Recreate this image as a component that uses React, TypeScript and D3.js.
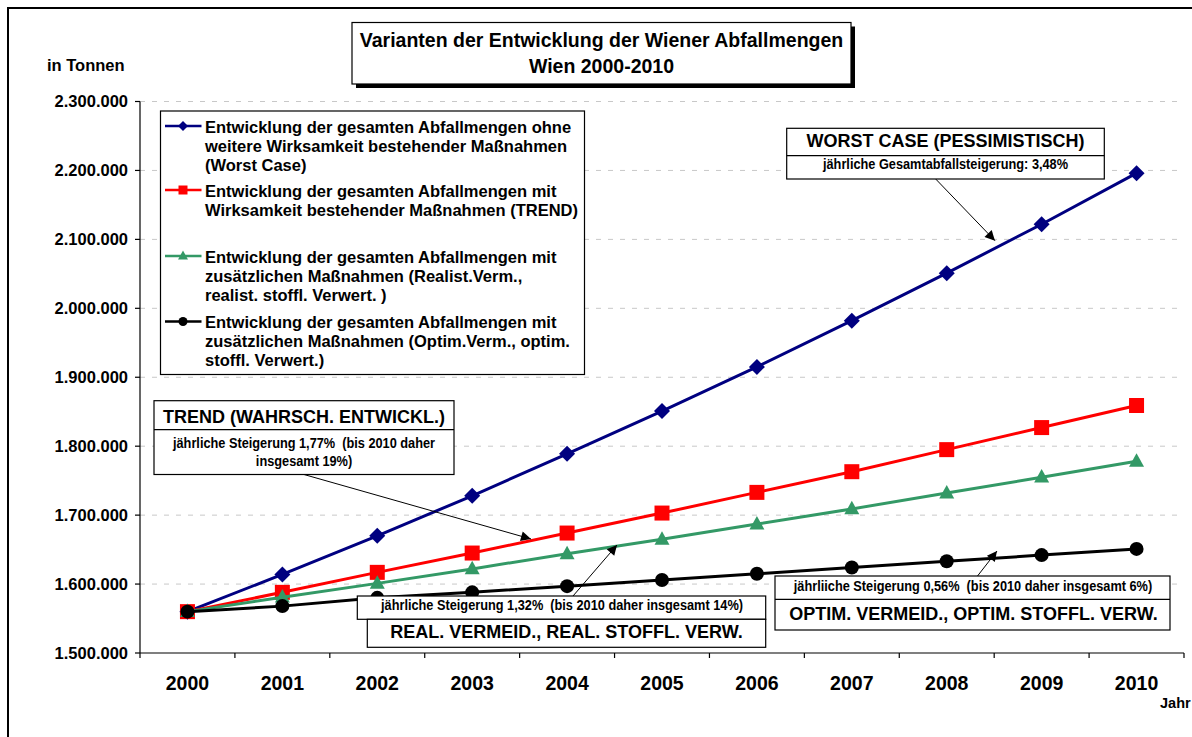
import React from 'react';
import * as d3 from 'd3';

const years = ['2000', '2001', '2002', '2003', '2004', '2005', '2006', '2007', '2008', '2009', '2010'];
const worstCase = [1560000, 1614000, 1670000, 1728000, 1789000, 1851000, 1915000, 1982000, 2051000, 2122000, 2196000];
const trend = [1560000, 1588000, 1617000, 1645000, 1674000, 1703000, 1733000, 1763000, 1795000, 1827000, 1859000];
const realistic = [1560000, 1581000, 1601000, 1622000, 1644000, 1665000, 1687000, 1709000, 1732000, 1755000, 1778000];
const optimistic = [1560000, 1568000, 1580000, 1588000, 1597000, 1606000, 1615000, 1624000, 1633000, 1642000, 1651000];
const yTicks = [1500000, 1600000, 1700000, 1800000, 1900000, 2000000, 2100000, 2200000, 2300000];

const titleLines = ['Varianten der Entwicklung der Wiener Abfallmengen', 'Wien 2000-2010'];
const legendWorst = ['Entwicklung der gesamten Abfallmengen ohne', 'weitere Wirksamkeit bestehender Maßnahmen', '(Worst Case)'];
const legendTrend = ['Entwicklung der gesamten Abfallmengen mit', 'Wirksamkeit bestehender Maßnahmen (TREND)'];
const legendReal = ['Entwicklung der gesamten Abfallmengen mit', 'zusätzlichen Maßnahmen (Realist.Verm.,', 'realist. stoffl. Verwert. )'];
const legendOptim = ['Entwicklung der gesamten Abfallmengen mit', 'zusätzlichen Maßnahmen (Optim.Verm., optim.', 'stoffl. Verwert.)'];

const FONT = "Arial, 'Liberation Sans', Helvetica, sans-serif";

const fmt = d3.formatLocale({ decimal: ',', thousands: '.', grouping: [3], currency: ['', ''] }).format(',');

type Shape = 'diamond' | 'square' | 'triangle' | 'circle';

function markerPath(shape: Shape, s: number): string {
  if (shape === 'diamond') return `M0,${-s}L${s},0L0,${s}L${-s},0Z`;
  if (shape === 'square') return `M${-s},${-s}H${s}V${s}H${-s}Z`;
  if (shape === 'triangle') {
    const h = s * 1.8;
    return `M0,${-h * 0.6}L${s},${h * 0.4}L${-s},${h * 0.4}Z`;
  }
  return d3.symbol(d3.symbolCircle, Math.PI * s * s)() as string;
}

const series = [
  { name: 'worst', values: worstCase, color: '#000080', shape: 'diamond' as Shape, size: 8, legend: legendWorst, ly: 132.5, lsize: 5 },
  { name: 'trend', values: trend, color: '#FF0000', shape: 'square' as Shape, size: 7.5, legend: legendTrend, ly: 196.5, lsize: 4.5 },
  { name: 'real', values: realistic, color: '#339966', shape: 'triangle' as Shape, size: 7.5, legend: legendReal, ly: 262.5, lsize: 5 },
  { name: 'optim', values: optimistic, color: '#000000', shape: 'circle' as Shape, size: 7, legend: legendOptim, ly: 328, lsize: 4.5 },
];

export default function App() {
  const W = 1192, H = 737;
  const x = d3.scaleBand<string>().domain(years).range([140, 1184]).paddingInner(0).paddingOuter(0);
  const y = d3.scaleLinear().domain([1500000, 2300000]).range([653, 101.5]);
  const cx = (yr: string) => (x(yr) as number) + x.bandwidth() / 2;

  const line = d3.line<number>().x((_, i) => cx(years[i])).y((v) => y(v));

  const boundaries = years.map((yr) => x(yr) as number).concat([x.range()[1]]);

  const sub = (text: string, sx: number, sy: number) => (
    <text transform={`translate(${sx},${sy}) scale(0.88,1)`} textAnchor="middle" fontFamily={FONT} fontWeight="bold" fontSize={14.5} style={{ whiteSpace: 'pre' }}>{text}</text>
  );
  const ttl = (text: string, sx: number, sy: number) => (
    <text x={sx} y={sy} textAnchor="middle" fontFamily={FONT} fontWeight="bold" fontSize={18}>{text}</text>
  );

  return (
    <svg width={W} height={H} style={{ position: 'absolute', left: 0, top: 0, background: '#fff' }}>
      <defs>
        <marker id="arrow" viewBox="0 0 10 10" refX="10" refY="5" markerWidth="12" markerHeight="10" markerUnits="userSpaceOnUse" orient="auto">
          <path d="M0,0L10,5L0,10Z" fill="#000" />
        </marker>
      </defs>
      <rect x={0} y={0} width={W} height={H} fill="#fff" />
      {/* frame */}
      <rect x={8} y={8} width={1300} height={900} fill="none" stroke="#000" strokeWidth={2} />

      {/* title */}
      <rect x={356} y={26.5} width={499} height={61.5} fill="#000" />
      <rect x={352} y={22.5} width={499} height={61.5} fill="#fff" stroke="#000" strokeWidth={1.2} />
      <text x={601.5} y={46.5} textAnchor="middle" fontFamily={FONT} fontWeight="bold" fontSize={19.5}>{titleLines[0]}</text>
      <text x={601.5} y={73} textAnchor="middle" fontFamily={FONT} fontWeight="bold" fontSize={19.5}>{titleLines[1]}</text>

      <text x={47} y={70.5} fontFamily={FONT} fontWeight="bold" fontSize={16.5}>in Tonnen</text>

      {/* gridlines */}
      {yTicks.filter((t) => t > 1500000).map((t) => (
        <line key={'g' + t} x1={140} x2={1184} y1={y(t)} y2={y(t)} stroke="#c8c8c8" strokeWidth={1} strokeDasharray="5,7" />
      ))}

      {/* y axis */}
      <line x1={140} x2={140} y1={y(2300000)} y2={y(1500000)} stroke="#000" strokeWidth={1.2} />
      {yTicks.map((t) => (
        <g key={'y' + t}>
          <line x1={135} x2={140} y1={y(t)} y2={y(t)} stroke="#000" strokeWidth={1.2} />
          <text x={128} y={y(t) + 5.8} textAnchor="end" fontFamily={FONT} fontWeight="bold" fontSize={16.5}>{fmt(t)}</text>
        </g>
      ))}

      {/* x axis */}
      <line x1={140} x2={1184} y1={653} y2={653} stroke="#000" strokeWidth={1.2} />
      {boundaries.map((b, i) => (
        <line key={'xt' + i} x1={b} x2={b} y1={653} y2={658} stroke="#000" strokeWidth={1.2} />
      ))}
      {years.map((yr) => (
        <text key={'xl' + yr} x={cx(yr)} y={689.5} textAnchor="middle" fontFamily={FONT} fontWeight="bold" fontSize={19.5}>{yr}</text>
      ))}
      <text x={1160} y={708} fontFamily={FONT} fontWeight="bold" fontSize={14.5}>Jahr</text>

      {/* series */}
      {series.map((s) => (
        <g key={s.name}>
          <path d={line(s.values) as string} fill="none" stroke={s.color} strokeWidth={3} strokeLinejoin="round" />
          {s.values.map((v, i) => (
            <path key={i} d={markerPath(s.shape, s.size)} transform={`translate(${cx(years[i])},${y(v)})`} fill={s.color} />
          ))}
        </g>
      ))}

      {/* legend */}
      <rect x={160.5} y={111} width={424} height={263.5} fill="#fff" stroke="#000" strokeWidth={1.2} />
      {series.map((s) => (
        <g key={'lg' + s.name}>
          <line x1={165} x2={201.5} y1={s.ly - 6.5} y2={s.ly - 6.5} stroke={s.color} strokeWidth={2.5} />
          <path d={markerPath(s.shape, s.lsize)} transform={`translate(${183},${s.ly - 6.5})`} fill={s.color} />
          {s.legend.map((t, j) => (
            <text key={j} x={205} y={s.ly + j * 19} fontFamily={FONT} fontWeight="bold" fontSize={16.5}>{t}</text>
          ))}
        </g>
      ))}

      {/* annotations: WORST CASE */}
      <line x1={935.7} y1={179} x2={995} y2={240.7} stroke="#000" strokeWidth={1} markerEnd="url(#arrow)" />
      <rect x={786.7} y={128.3} width={317.6} height={50.7} fill="#fff" stroke="#000" strokeWidth={1.2} />
      <line x1={786.7} x2={1104.3} y1={155.7} y2={155.7} stroke="#000" strokeWidth={1.2} />
      {ttl('WORST CASE (PESSIMISTISCH)', 945.5, 147.3)}
      {sub('jährliche Gesamtabfallsteigerung: 3,48%', 945.5, 169.3)}

      {/* TREND */}
      <line x1={304} y1={474.5} x2={531} y2={539} stroke="#000" strokeWidth={1} markerEnd="url(#arrow)" />
      <rect x={154} y={400.7} width={300} height={73.8} fill="#fff" stroke="#000" strokeWidth={1.2} />
      <line x1={154} x2={454} y1={429.7} y2={429.7} stroke="#000" strokeWidth={1.2} />
      {ttl('TREND (WAHRSCH. ENTWICKL.)', 304, 423)}
      {sub('jährliche Steigerung 1,77%  (bis 2010 daher', 304, 448)}
      {sub('insgesamt 19%)', 304, 466.3)}

      {/* REAL */}
      <line x1={573} y1={596} x2={617} y2={545} stroke="#000" strokeWidth={1} markerEnd="url(#arrow)" />
      <rect x={357.3} y={596} width={408.4} height={23.3} fill="#fff" stroke="#000" strokeWidth={1.2} />
      <rect x={367.3} y={619.3} width={398.4} height={28} fill="#fff" stroke="#000" strokeWidth={1.2} />
      {sub('jährliche Steigerung 1,32%  (bis 2010 daher insgesamt 14%)', 562, 610)}
      {ttl('REAL. VERMEID., REAL. STOFFL. VERW.', 566.5, 638.3)}

      {/* OPTIM */}
      <line x1={977.5} y1={576} x2={997} y2={551} stroke="#000" strokeWidth={1} markerEnd="url(#arrow)" />
      <rect x={775} y={576} width={395} height={54} fill="#fff" stroke="#000" strokeWidth={1.2} />
      <line x1={775} x2={1170} y1={599.3} y2={599.3} stroke="#000" strokeWidth={1.2} />
      {sub('jährliiche Steigerung 0,56%  (bis 2010 daher insgesamt 6%)', 973, 591)}
      {ttl('OPTIM. VERMEID., OPTIM. STOFFL. VERW.', 973.5, 620)}
    </svg>
  );
}
